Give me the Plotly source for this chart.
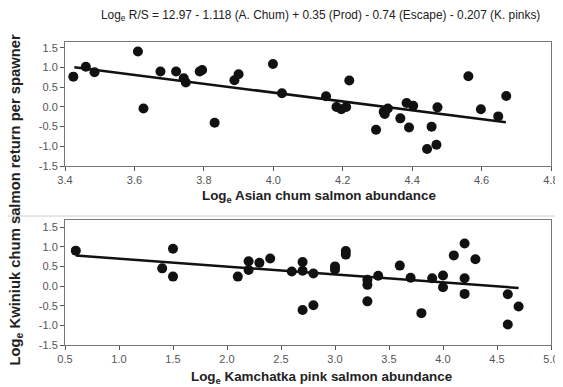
import plotly.graph_objects as go

# Top panel: Asian chum salmon abundance vs log R/S
chum_x = [3.424, 3.46, 3.485, 3.61, 3.626, 3.675, 3.72, 3.742, 3.748, 3.788, 3.795,
          3.831, 3.888, 3.90, 3.999, 4.025, 4.152, 4.182, 4.196, 4.21, 4.219, 4.296,
          4.318, 4.321, 4.330, 4.366, 4.384, 4.391, 4.403, 4.443, 4.456, 4.470, 4.473,
          4.562, 4.598, 4.648, 4.671]
chum_y = [0.77, 1.02, 0.88, 1.41, -0.04, 0.90, 0.90, 0.73, 0.62, 0.90, 0.94,
          -0.40, 0.68, 0.83, 1.09, 0.35, 0.27, 0.0, -0.06, 0.0, 0.67, -0.58,
          -0.12, -0.18, -0.04, -0.29, 0.10, -0.52, 0.03, -1.07, -0.50, -0.96, -0.01,
          0.78, -0.06, -0.24, 0.28]
chum_fit_x = [3.427, 4.67]
chum_fit_y = [1.01, -0.39]

# Bottom panel: Kamchatka pink salmon abundance vs log R/S
pink_x = [0.6, 1.4, 1.5, 1.5, 2.1, 2.2, 2.2, 2.3, 2.4, 2.6, 2.7, 2.7, 2.7, 2.8, 2.8,
          3.0, 3.0, 3.1, 3.1, 3.3, 3.3, 3.3, 3.4, 3.6, 3.7, 3.8, 3.9, 4.0, 4.0,
          4.1, 4.2, 4.2, 4.2, 4.3, 4.6, 4.6, 4.7]
pink_y = [0.90, 0.45, 0.95, 0.24, 0.24, 0.63, 0.41, 0.59, 0.70, 0.37, 0.61, 0.39, -0.61, 0.32, -0.49,
          0.50, 0.42, 0.89, 0.80, 0.16, 0.03, -0.39, 0.26, 0.52, 0.21, -0.69, 0.20, 0.27, -0.03,
          0.78, 1.08, 0.20, -0.20, 0.68, -0.21, -0.98, -0.52]
pink_fit_x = [0.6, 4.7]
pink_fit_y = [0.78, -0.05]

y_ticks = [-1.5, -1.0, -0.5, 0.0, 0.5, 1.0, 1.5]
chum_ticks = [3.4, 3.6, 3.8, 4.0, 4.2, 4.4, 4.6, 4.8]
pink_ticks = [0.5, 1.0, 1.5, 2.0, 2.5, 3.0, 3.5, 4.0, 4.5, 5.0]

title_text = "Log<sub>e</sub> R/S = 12.97 - 1.118 (A. Chum) + 0.35 (Prod) - 0.74 (Escape) - 0.207 (K. pinks)"
ytitle = "<b>Log<sub>e</sub> Kwiniuk chum salmon return per spawner</b>"
xtitle_top = "<b>Log<sub>e</sub> Asian chum salmon abundance</b>"
xtitle_bot = "<b>Log<sub>e</sub> Kamchatka pink salmon abundance</b>"

fig = go.Figure()
marker = dict(color="#111111", size=10)
fig.add_trace(go.Scatter(x=chum_x, y=chum_y, mode="markers", marker=marker, xaxis="x", yaxis="y"))
fig.add_trace(go.Scatter(x=chum_fit_x, y=chum_fit_y, mode="lines", line=dict(color="#111111", width=2.5), xaxis="x", yaxis="y"))
fig.add_trace(go.Scatter(x=pink_x, y=pink_y, mode="markers", marker=marker, xaxis="x2", yaxis="y2"))
fig.add_trace(go.Scatter(x=pink_fit_x, y=pink_fit_y, mode="lines", line=dict(color="#111111", width=2.5), xaxis="x2", yaxis="y2"))

# page body has an 8px margin, so the figure is offset by 8px
OFF = 8
W, H = 563 - OFF, 387 - OFF
R = 12
PW = W - R


def px(x):
    return (x - OFF) / PW


def py(y):
    return 1 - (y - OFF) / H


xdom = [px(65), 1.0]
ydom_top = [py(166), py(42)]
ydom_bot = [py(345), py(220)]

axis_common = dict(showgrid=False, zeroline=False, ticks="outside", ticklen=4, tickwidth=1,
                   tickcolor="#555", linecolor="#777", linewidth=1, mirror=True, showline=True,
                   ticklabeloverflow="allow",
                   tickfont=dict(family="Liberation Sans, Arial", size=11, color="#555"))

fig.update_layout(
    width=W, height=H, margin=dict(l=0, r=R, t=0, b=0, autoexpand=False),
    paper_bgcolor="white", plot_bgcolor="white", showlegend=False,
    xaxis=dict(domain=xdom, range=[3.4, 4.8], tickvals=chum_ticks, ticktext=[f"{v:.1f}" for v in chum_ticks], anchor="y", **axis_common),
    yaxis=dict(domain=ydom_top, range=[-1.5, 1.65], tickvals=y_ticks, ticktext=[f"{v:.1f}" for v in y_ticks], anchor="x", **axis_common),
    xaxis2=dict(domain=xdom, range=[0.5, 5.0], tickvals=pink_ticks, ticktext=[f"{v:.1f}" for v in pink_ticks], anchor="y2", **axis_common),
    yaxis2=dict(domain=ydom_bot, range=[-1.5, 1.68], tickvals=y_ticks, ticktext=[f"{v:.1f}" for v in y_ticks], anchor="x2", **axis_common),
)

font_t = dict(family="Liberation Sans, Arial", color="#222")
fig.add_annotation(text=title_text, xref="paper", yref="paper", x=px(320), y=py(16),
                   showarrow=False, font=dict(size=11.9, **font_t), xanchor="center", yanchor="middle")
fig.add_annotation(text=xtitle_top, xref="paper", yref="paper", x=px(319), y=py(196),
                   showarrow=False, font=dict(size=13.4, **font_t), xanchor="center", yanchor="middle")
fig.add_annotation(text=xtitle_bot, xref="paper", yref="paper", x=px(321), y=py(377),
                   showarrow=False, font=dict(size=13.4, **font_t), xanchor="center", yanchor="middle")
fig.add_annotation(text=ytitle, xref="paper", yref="paper", x=px(15.5), y=py(200), textangle=-90,
                   showarrow=False, font=dict(size=14.8, **font_t), xanchor="center", yanchor="middle")

fig.add_shape(type="line", xref="paper", yref="paper", x0=0, x1=W / PW, y0=py(216), y1=py(216),
              line=dict(color="#cccccc", width=1))

fig.write_html("out.html")
